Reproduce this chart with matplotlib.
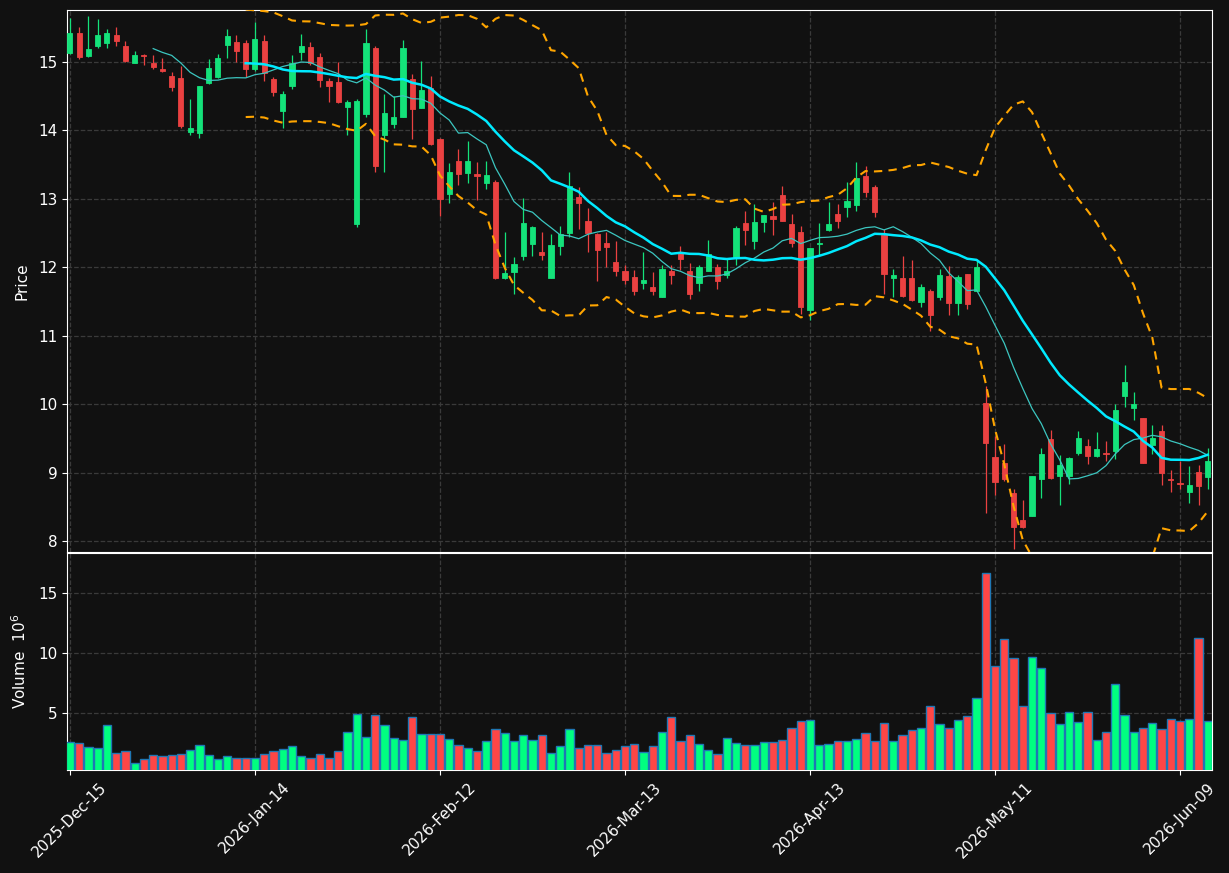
import numpy as np
import pandas as pd
import matplotlib
matplotlib.use("Agg")
import matplotlib.pyplot as plt

# trading days (US market holidays skipped)
start_day = "2025-12-15"
n_days = 124
holidays = ["2025-12-25", "2026-01-01", "2026-01-19", "2026-02-16",
            "2026-04-03", "2026-05-25"]

opens = [15.133, 15.426, 15.09, 15.236, 15.28, 15.395, 15.236, 14.99, 15.10, 14.99,
         14.90, 14.80, 14.77, 13.985, 13.96, 14.70, 14.785, 15.25, 15.30, 15.28,
         14.90, 15.31, 14.754, 14.29, 14.65, 15.154, 15.22, 15.077, 14.72, 14.71,
         14.344, 12.636, 14.24, 15.205, 13.93, 14.097, 14.20, 14.754, 14.333, 14.62,
         13.877, 13.077, 13.554, 13.385, 13.364, 13.236, 13.246, 11.846, 11.933, 12.164,
         12.344, 12.226, 11.846, 12.313, 12.503, 13.03, 12.677, 12.487, 12.354, 12.077,
         11.95, 11.86, 11.774, 11.713, 11.56, 11.95, 12.205, 11.95, 11.774, 11.94,
         12.005, 11.89, 12.154, 12.65, 12.39, 12.656, 12.754, 13.062, 12.636, 12.518,
         11.37, 12.34, 12.54, 12.774, 12.887, 12.913, 13.333, 13.174, 12.477, 11.85,
         11.846, 11.846, 11.497, 11.656, 11.56, 11.872, 11.477, 11.90, 11.656, 10.015,
         9.226, 9.14, 8.70, 8.31, 8.37, 8.90, 9.49, 8.95, 8.95, 9.287,
         9.385, 9.246, 9.28, 9.323, 10.113, 9.94, 9.80, 9.40, 9.605, 8.90,
         8.85, 8.72, 9.005, 8.94]
highs = [15.64, 15.51, 15.68, 15.63, 15.49, 15.51, 15.31, 15.16, 15.12, 15.10,
         15.06, 14.85, 14.94, 14.46, 14.65, 15.04, 15.12, 15.49, 15.39, 15.32,
         15.59, 15.39, 14.785, 14.58, 15.10, 15.41, 15.29, 15.128, 14.76, 15.00,
         14.45, 14.46, 15.49, 15.23, 14.54, 14.51, 15.32, 14.826, 15.015, 14.795,
         13.89, 13.53, 13.73, 13.84, 13.533, 13.55, 13.27, 12.51, 12.154, 13.015,
         12.605, 12.51, 12.48, 12.60, 13.39, 13.174, 12.862, 12.503, 12.51, 12.385,
         12.04, 11.964, 12.23, 11.93, 12.03, 12.03, 12.313, 12.07, 12.03, 12.40,
         12.046, 12.12, 12.605, 12.82, 12.92, 12.77, 12.95, 13.195, 12.774, 12.605,
         12.28, 12.65, 12.95, 12.92, 13.24, 13.533, 13.482, 13.20, 12.564, 11.98,
         12.164, 12.10, 11.754, 11.69, 11.97, 12.015, 11.887, 11.90, 12.10, 10.272,
         9.54, 9.415, 8.754, 8.605, 8.95, 9.36, 9.63, 9.26, 9.23, 9.605,
         9.49, 9.59, 9.465, 10.00, 10.57, 10.174, 9.80, 9.703, 9.692, 9.036,
         9.17, 9.09, 9.11, 9.36]
lows = [15.12, 15.05, 15.077, 15.20, 15.20, 15.24, 15.00, 14.99, 14.96, 14.90,
        14.85, 14.57, 14.03, 13.94, 13.89, 14.68, 14.76, 15.06, 15.00, 14.785,
        14.87, 14.73, 14.51, 14.03, 14.605, 15.03, 14.964, 14.63, 14.41, 14.395,
        13.94, 12.595, 14.195, 13.40, 13.40, 14.03, 14.20, 13.88, 14.333, 13.795,
        12.75, 12.94, 13.21, 13.23, 12.99, 13.14, 11.836, 11.83, 11.605, 12.10,
        12.17, 12.10, 11.846, 12.185, 12.45, 12.56, 12.22, 11.795, 12.00, 11.877,
        11.75, 11.59, 11.69, 11.60, 11.56, 11.754, 11.96, 11.53, 11.66, 11.94,
        11.69, 11.85, 12.04, 12.32, 12.27, 12.51, 12.477, 12.682, 12.30, 11.323,
        11.23, 12.185, 12.53, 12.57, 12.733, 12.82, 13.026, 12.733, 11.605, 11.56,
        11.564, 11.513, 11.426, 11.067, 11.518, 11.308, 11.308, 11.395, 11.656, 8.405,
        8.67, 8.88, 7.887, 8.19, 8.37, 8.636, 8.91, 8.53, 8.836, 9.26,
        9.13, 9.23, 9.17, 9.195, 9.954, 9.774, 9.134, 9.27, 8.826, 8.72,
        8.754, 8.56, 8.53, 8.754]
closes = [15.426, 15.077, 15.195, 15.395, 15.426, 15.31, 15.015, 15.10, 15.09, 14.93,
          14.87, 14.64, 14.07, 14.036, 14.65, 14.91, 15.06, 15.385, 15.164, 14.90,
          15.34, 14.846, 14.564, 14.53, 14.98, 15.236, 14.99, 14.744, 14.65, 14.42,
          14.415, 14.43, 15.28, 13.48, 14.256, 14.20, 15.205, 14.31, 14.595, 13.805,
          13.00, 13.395, 13.37, 13.554, 13.33, 13.35, 11.846, 11.92, 12.05, 12.65,
          12.59, 12.185, 12.33, 12.48, 13.185, 12.944, 12.503, 12.246, 12.29, 11.94,
          11.82, 11.66, 11.815, 11.66, 11.974, 11.887, 12.128, 11.615, 12.005, 12.19,
          11.805, 11.95, 12.574, 12.54, 12.66, 12.764, 12.713, 12.682, 12.354, 11.426,
          12.28, 12.35, 12.636, 12.682, 12.964, 13.31, 13.108, 12.815, 11.90, 11.887,
          11.574, 11.523, 11.713, 11.308, 11.887, 11.477, 11.862, 11.467, 12.005, 9.426,
          8.862, 8.90, 8.21, 8.21, 8.95, 9.27, 8.92, 9.11, 9.22, 9.50,
          9.246, 9.34, 9.265, 9.908, 10.318, 10.00, 9.144, 9.513, 9.00, 8.89,
          8.84, 8.826, 8.81, 9.17]
# volume in millions
volumes = [2.58, 2.50, 2.17, 2.08, 4.00, 1.67, 1.83, 0.81, 1.17, 1.50,
           1.42, 1.50, 1.58, 1.92, 2.33, 1.50, 1.17, 1.42, 1.25, 1.25,
           1.25, 1.58, 1.83, 2.00, 2.25, 1.42, 1.25, 1.58, 1.25, 1.83,
           3.42, 4.92, 3.00, 4.83, 4.00, 2.92, 2.75, 4.67, 3.25, 3.25,
           3.25, 2.83, 2.33, 2.08, 1.83, 2.67, 3.67, 3.33, 2.67, 3.17,
           2.75, 3.17, 1.67, 2.25, 3.67, 2.08, 2.33, 2.33, 1.67, 1.92,
           2.25, 2.42, 1.75, 2.25, 3.42, 4.67, 2.67, 3.17, 2.42, 1.92,
           1.58, 2.92, 2.50, 2.33, 2.33, 2.58, 2.58, 2.75, 3.75, 4.33,
           4.42, 2.33, 2.42, 2.67, 2.67, 2.83, 3.33, 2.67, 4.17, 2.67,
           3.17, 3.58, 3.75, 5.58, 4.08, 3.75, 4.42, 4.75, 6.25, 16.67,
           8.92, 11.17, 9.58, 5.58, 9.67, 8.75, 5.00, 4.08, 5.08, 4.25,
           5.08, 2.75, 3.42, 7.42, 4.83, 3.42, 3.75, 4.17, 3.67, 4.50,
           4.33, 4.50, 11.25, 4.33]

dates = pd.bdate_range(start=start_day, periods=n_days, freq="C", holidays=holidays)
df = pd.DataFrame({"Open": opens, "High": highs, "Low": lows, "Close": closes,
                   "Volume": volumes}, index=dates)

# indicators
ma10 = df["Close"].rolling(10).mean()
ma20 = df["Close"].rolling(20).mean()
sd20 = df["Close"].rolling(20).std()
upper = ma20 + 2 * sd20
lower = ma20 - 2 * sd20

bg = "#111111"
up_c, down_c = "#14e27a", "#ea4141"
vol_up, vol_down = "#00ff80", "#ff4646"

fig = plt.figure(figsize=(12.29, 8.73), dpi=100, facecolor=bg)
ax = fig.add_axes([0.0545, 0.3677, 0.9317, 0.6208], facecolor=bg)
axv = fig.add_axes([0.0545, 0.118, 0.9317, 0.2486], facecolor=bg, sharex=ax)

x = np.arange(len(df))
rising = df["Close"] >= df["Open"]
cols = np.where(rising, up_c, down_c)

# candles
ax.vlines(x, df["Low"], df["High"], colors=cols, linewidth=0.9, zorder=2)
body_lo = np.minimum(df["Open"], df["Close"])
body_h = np.abs(df["Close"] - df["Open"])
ax.bar(x, body_h, bottom=body_lo, width=0.55, color=cols, edgecolor=cols,
       linewidth=0.6, zorder=3)

# moving averages and bands
ax.plot(x, ma10, color="#3cc6c0", linewidth=0.9, zorder=4)
ax.plot(x, ma20, color="#00eaff", linewidth=1.8, zorder=4)
ax.plot(x, upper, color="#ffa500", linewidth=1.5, linestyle=(0, (4, 3)), zorder=4)
ax.plot(x, lower, color="#ffa500", linewidth=1.5, linestyle=(0, (4, 3)), zorder=4)

# volume
vcols = np.where(rising, vol_up, vol_down)
axv.bar(x, df["Volume"], width=0.9, color=vcols, edgecolor="#1f77b4",
        linewidth=1.0, zorder=3)

ax.set_xlim(-0.32, 123.46)
ax.set_ylim(7.84, 15.76)
axv.set_ylim(0.3 * min(volumes), 1.1 * max(volumes))

tick_pos = list(range(0, len(df), 20))
axv.set_xticks(tick_pos)
axv.set_xticklabels([dates[i].strftime("%Y-%b-%d") for i in tick_pos], rotation=45)
ax.set_yticks(range(8, 16))
axv.set_yticks([5, 10, 15])
plt.setp(ax.get_xticklabels(), visible=False)

for a in (ax, axv):
    a.grid(True, color="#3a3a3a", linestyle="--", linewidth=0.9)
    a.set_axisbelow(True)
    for s in a.spines.values():
        s.set_color("white")
    a.tick_params(colors="white", labelsize=11)

ax.set_ylabel("Price", color="white", fontsize=11)
axv.set_ylabel("Volume  $10^{6}$", color="white", fontsize=11)
ax.yaxis.set_label_coords(-0.033, 0.5)
axv.yaxis.set_label_coords(-0.033, 0.5)

fig.savefig("out.png", dpi=100, facecolor=bg)
